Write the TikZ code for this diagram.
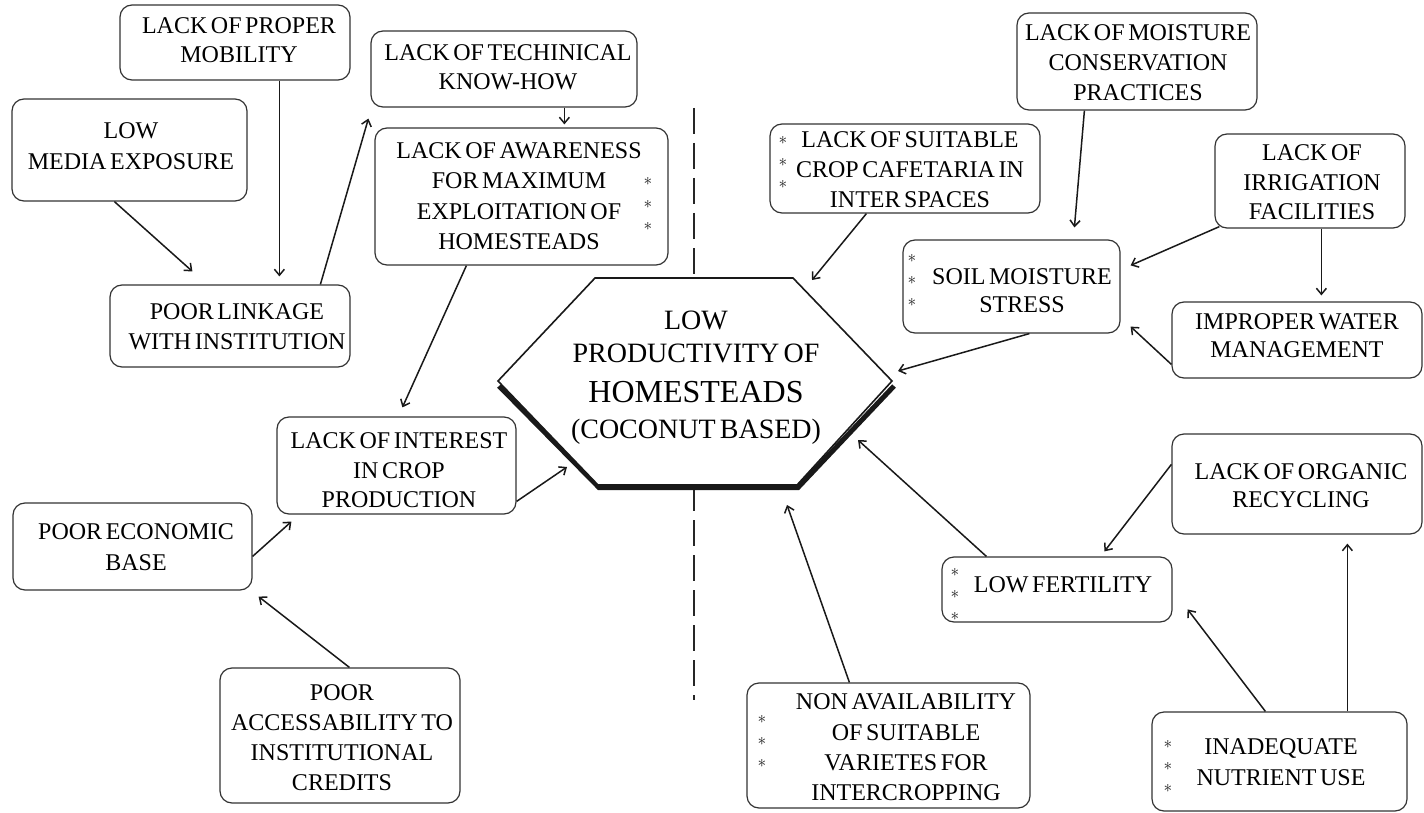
\documentclass[tikz,border=0pt]{standalone}
\usepackage{fontspec}
\setmainfont{Liberation Serif}[WordSpace=0.6]
\usetikzlibrary{arrows.meta,calc}
\begin{document}
\begin{tikzpicture}[x=1pt,y=-1pt,
  box/.style={draw=black!80, line width=1.2pt, rounded corners=12pt, inner sep=0pt},
  txt/.style={font=\fontsize{24}{#1}\selectfont, align=center, inner sep=0pt, text=black},
  txt/.default=30,
  star/.style={font=\fontsize{17}{17}\selectfont, inner sep=0pt, text=black!90,
    text height=4pt, text depth=0pt, yshift=-2pt},
  arr/.style={line width=1.5pt, draw=black!90, -{Straight Barb[length=6pt,width=10pt]}},
  core/.style={font=\fontsize{28}{28}\selectfont, inner sep=0pt, text=black},
  divider/.style={line width=1.5pt, draw=black!85, dash pattern=on 26pt off 9pt},
]
% canvas
\fill[white] (0,0) rectangle (1424,813);
\useasboundingbox (0,0) rectangle (1424,813);

% central hexagon
\coordinate (hL)  at (498,381);
\coordinate (hTL) at (595,278);
\coordinate (hTR) at (793,278);
\coordinate (hR)  at (892,381);
\coordinate (hBR) at (797,485);
\coordinate (hBL) at (598,485);

% dividing dashed line
\coordinate (dTop) at (694,108);
\coordinate (dBot) at (694,700);
\draw[divider] (dTop) -- (dTop |- hTL);
\draw[divider] (dBot |- hBL) -- (dBot);

% hexagon with a heavy lower rim
\draw[line width=5pt, line join=miter, draw=black!90]
  ($(hL)+(1,5)$) -- ($(hBL)+(1,2.5)$) -- ($(hBR)+(1,2.5)$) -- ($(hR)+(2,5)$);
\draw[line width=1.6pt, fill=white, draw=black!90] (hL) -- (hTL) -- (hTR) -- (hR) -- (hBR) -- (hBL) -- cycle;

\node[core] (hLow)  at (696,320) {LOW};
\node[core] (hProd) at (696,353) {PRODUCTIVITY OF};
\node[core, font=\fontsize{32}{32}\selectfont] (hHome) at (696,392) {HOMESTEADS};
\node[core] (hCoco) at (696,432) {(COCONUT BASED)};

% boxes
\node[box, minimum width=230pt, minimum height=75pt]  (mob)      at (235,42.5) {};
\node[box, minimum width=235pt, minimum height=102pt] (media)    at (129.5,150) {};
\node[box, minimum width=240pt, minimum height=82pt]  (link)     at (230,326) {};
\node[box, minimum width=266pt, minimum height=76pt]  (tech)     at (504,69) {};
\node[box, minimum width=293pt, minimum height=137pt] (aware)    at (521.5,196.5) {};
\node[box, minimum width=270pt, minimum height=89pt]  (cafe)     at (905,168.5) {};
\node[box, minimum width=240pt, minimum height=97pt]  (moist)    at (1137,61.5) {};
\node[box, minimum width=190pt, minimum height=94pt]  (irrig)    at (1310,181) {};
\node[box, minimum width=217pt, minimum height=93pt]  (soil)     at (1011.5,286.5) {};
\node[box, minimum width=250pt, minimum height=76pt]  (water)    at (1297,340) {};
\node[box, minimum width=250pt, minimum height=100pt] (organic)  at (1297,484) {};
\node[box, minimum width=230pt, minimum height=65pt]  (fert)     at (1057,589.5) {};
\node[box, minimum width=255pt, minimum height=99pt]  (inadeq)   at (1279.5,761.5) {};
\node[box, minimum width=283pt, minimum height=125pt] (nonav)    at (888.5,745.5) {};
\node[box, minimum width=239pt, minimum height=97pt]  (interest) at (396.5,465.5) {};
\node[box, minimum width=239pt, minimum height=87pt]  (econ)     at (132.5,546.5) {};
\node[box, minimum width=240pt, minimum height=135pt] (credit)   at (340,735.5) {};

% box texts
\node[txt=29]   (mobT)      at (239,40.5)  {LACK OF PROPER\\MOBILITY};
\node[txt=31]   (mediaT)    at (131,146)   {LOW\\MEDIA EXPOSURE};
\node[txt]      (linkT)     at (237,327)   {POOR LINKAGE\\WITH INSTITUTION};
\node[txt=29]   (techT)     at (508,67.5)  {LACK OF TECHINICAL\\KNOW-HOW};
\node[txt=30.5] (awareT)    at (519,196)   {LACK OF AWARENESS\\FOR MAXIMUM\\EXPLOITATION OF\\HOMESTEADS};
\node[txt]      (cafeT)     at (910,170)   {LACK OF SUITABLE\\CROP CAFETARIA IN\\INTER SPACES};
\node[txt]      (moistT)    at (1138,63)   {LACK OF MOISTURE\\CONSERVATION\\PRACTICES};
\node[txt=29.5] (irrigT)    at (1312,182.5) {LACK OF\\IRRIGATION\\FACILITIES};
\node[txt=28]   (soilT)     at (1022,291)  {SOIL MOISTURE\\STRESS};
\node[txt=28]   (waterT)    at (1297,336)  {IMPROPER WATER\\MANAGEMENT};
\node[txt=28]   (organicT)  at (1301,486)  {LACK OF ORGANIC\\RECYCLING};
\node[txt]      (fertT)     at (1063,585)  {LOW FERTILITY};
\node[txt=31]   (inadeqT)   at (1281,762)  {INADEQUATE\\NUTRIENT USE};
\node[txt=30.3] (nonavT)    at (906,747.5) {NON AVAILABILITY\\OF SUITABLE\\VARIETES FOR\\INTERCROPPING};
\node[txt=29.5] (interestT) at (399,470.5) {LACK OF INTEREST\\IN CROP\\PRODUCTION};
\node[txt=31]   (econT)     at (136,547.5) {POOR ECONOMIC\\BASE};
\node[txt]      (creditT)   at (342,738)   {POOR\\ACCESSABILITY TO\\INSTITUTIONAL\\CREDITS};

% asterisk markers
\foreach \yy [count=\i] in {182,204,226}   \node[star] (awareS\i)  at (648,\yy)  {$\ast$};
\foreach \yy [count=\i] in {141,163,185}   \node[star] (cafeS\i)   at (783,\yy)  {$\ast$};
\foreach \yy [count=\i] in {258,280,302}   \node[star] (soilS\i)   at (912,\yy)  {$\ast$};
\foreach \yy [count=\i] in {572,594,616}   \node[star] (fertS\i)   at (955,\yy)  {$\ast$};
\foreach \yy [count=\i] in {744,766,788}   \node[star] (inadeqS\i) at (1168,\yy) {$\ast$};
\foreach \yy [count=\i] in {719,741,763}   \node[star] (nonavS\i)  at (762,\yy)  {$\ast$};

% arrow tips ending at the hexagon
\coordinate (tipInt)  at (567,467);
\coordinate (tipCafe) at (812,280);
\coordinate (tipSoil) at (898,371);
\coordinate (tipFert) at (858,440);
\coordinate (tipNon)  at (787,505);

% connectors
\draw[arr] ($(mob.south west)+(160,0)$) -- ($(link.north west)+(170,-8)$);
\draw[arr] ($(media.south west)+(103,0)$) -- ($(link.north west)+(83,-13)$);
\draw[arr] ($(link.north west)+(211,0)$) -- ($(tech.south west)+(-2,11)$);
\draw[arr] ($(tech.south west)+(194,0)$) -- ($(aware.north west)+(190,-3)$);
\draw[arr] ($(aware.south west)+(92,0)$) -- ($(interest.north west)+(126,-9)$);
\draw[arr] ($(econ.north east)+(0,54)$) -- ($(interest.south west)+(15,7)$);
\draw[arr] ($(credit.north west)+(130,0)$) -- ($(econ.south east)+(6,6)$);
\draw[arr] ($(interest.north east)+(0,85)$) -- (tipInt);
\draw[arr] ($(cafe.south west)+(97,0)$) -- (tipCafe);
\draw[arr] ($(soil.south west)+(127,0)$) -- (tipSoil);
\draw[arr] ($(moist.south west)+(68,0)$) -- ($(soil.north west)+(172,-12)$);
\draw[arr] ($(irrig.south west)+(5,-2)$) -- ($(soil.north east)+(10,26)$);
\draw[arr] ($(irrig.south west)+(107,0)$) -- ($(water.north west)+(150,-6)$);
\draw[arr] ($(water.north west)+(0,63)$) -- ($(soil.south east)+(10,-7)$);
\draw[arr] ($(fert.north west)+(45,0)$) -- (tipFert);
\draw[arr] ($(nonav.north west)+(103,0)$) -- (tipNon);
\draw[arr] ($(organic.north west)+(0,31)$) -- ($(fert.north west)+(163,-5)$);
\draw[arr] ($(inadeq.north west)+(114,0)$) -- ($(fert.north east)+(15,53)$);
\draw[arr] ($(inadeq.north west)+(196,0)$) -- ($(organic.south west)+(176,9)$);
\end{tikzpicture}
\end{document}
